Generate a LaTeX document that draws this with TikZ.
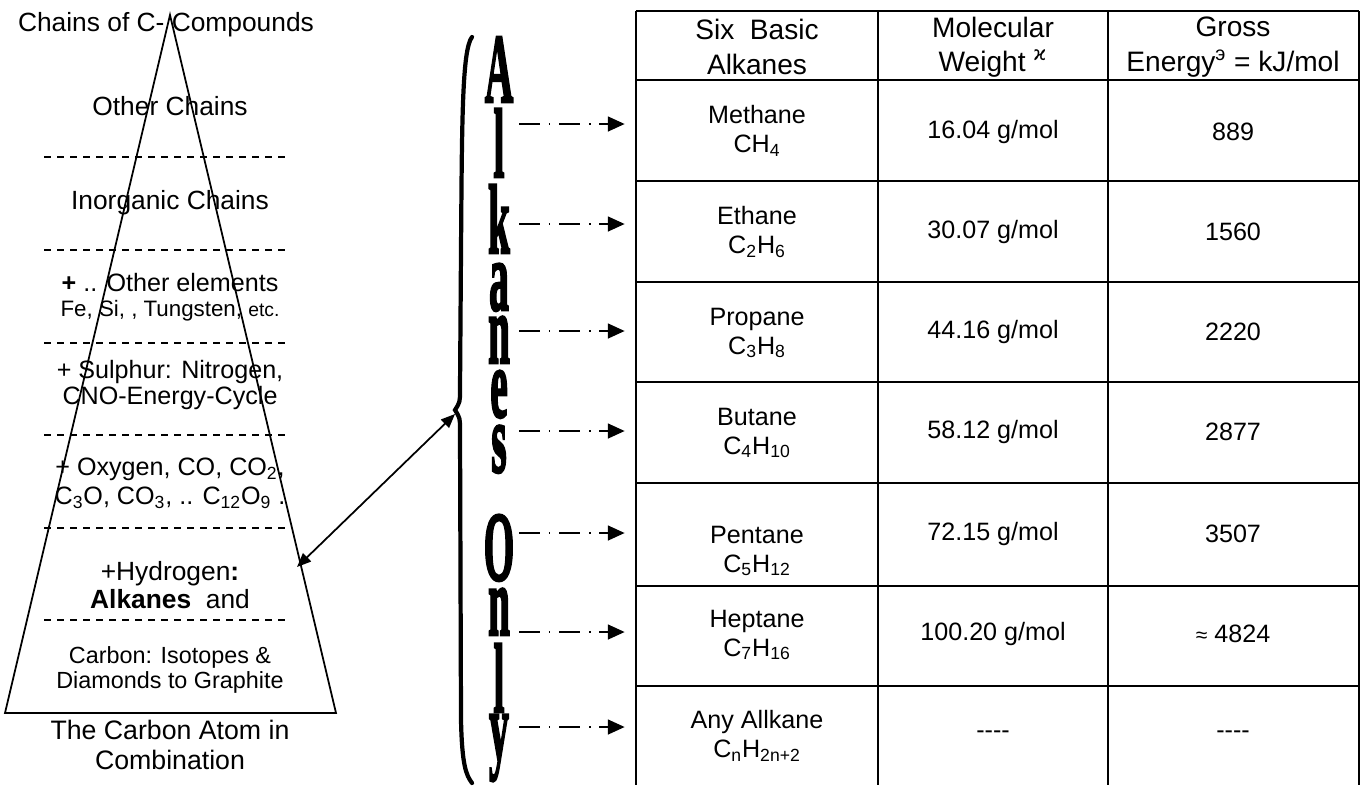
\documentclass[tikz,border=0pt]{standalone}
\usepackage{graphicx}
\usepackage{fontspec}
\setmainfont{Liberation Sans}
\newfontfamily\tallserif[FakeBold=3]{Liberation Serif}
\newfontfamily\dejavu{DejaVu Sans}
\usetikzlibrary{arrows.meta}

\newcommand{\tallchar}[1]{\scalebox{0.4}[1]{\fontsize{56}{56}\selectfont\tallserif\bfseries #1}}

\tikzset{
  layer/.style={align=center,inner sep=0pt,font=\fontsize{14.3}{14.5}\selectfont},
  biglayer/.style={layer,font=\fontsize{15}{15.5}\selectfont},
  layerline/.style={dash pattern=on 4pt off 3.4pt,line width=0.7pt},
  pyr/.style={line width=1pt,line join=miter},
  cell/.style={align=center,inner sep=0pt,font=\fontsize{14.3}{16.5}\selectfont},
  cellname/.style={cell,minimum width=4.84cm},
  headcell/.style={cell,font=\fontsize{16}{19.5}\selectfont},
  grid/.style={line width=1.1pt},
  dasharrow/.style={line width=0.8pt,dash pattern=on 12pt off 5pt on 0.9pt off 5pt,
    -{Triangle[length=9.5pt,width=8.5pt]},shorten >=6.3pt},
  linkarrow/.style={line width=1pt,
    {Triangle[length=8pt,width=6.5pt]}-{Triangle[length=8pt,width=6.5pt]}},
  bracepen/.style={line width=2.4pt,line cap=round},
  tallletter/.style={anchor=base,inner sep=0pt}
}

\begin{document}
\begin{tikzpicture}[x=0.02cm,y=-0.02cm]
\useasboundingbox (0,0) rectangle (1364,785);

% pyramid of carbon compounds
\draw[pyr] (170,15) -- (5,713) -- (336,713) -- cycle;
\foreach \y in {157,250,343,435,528,620}
  \draw[layerline] (44,\y) -- (290,\y);
\node[biglayer] (top) at (166,25) {Chains of C- Compounds};
\node[biglayer] (other) at (170,106) {Other Chains};
\node[biglayer] (inorg) at (170,203) {Inorganic Chains};
\node[layer] (elem) at (170,297) {\textbf{+} .. Other elements\\
  {\fontsize{12.7}{14}\selectfont Fe, Si, , Tungsten, {\fontsize{11}{13}\selectfont etc.}}};
\node[layer] (sulph) at (170,385) {+ Sulphur: Nitrogen,\\CNO-Energy-Cycle};
\node[layer,font=\fontsize{14.3}{16.5}\selectfont] (oxy) at (170,483)
  {+ Oxygen, CO, CO\textsubscript{2},\\C\textsubscript{3}O, CO\textsubscript{3}, .. C\textsubscript{12}O\textsubscript{9} .};
\node[biglayer] (hyd) at (170,585) {+Hydrogen\textbf{:}\\\textbf{Alkanes}\ \ and};
\node[layer,font=\fontsize{13.3}{14}\selectfont] (carb) at (170,670) {Carbon: Isotopes \&\\Diamonds to Graphite};
\node[layer,font=\fontsize{15.2}{17.5}\selectfont] (atom) at (170,745) {The Carbon Atom in\\Combination};

% brace and the tall letters
\draw[bracepen] (472,37) .. controls (462,50) and (462,120) .. (461,250) -- (460,390)
  .. controls (460,402) .. (455,410) .. controls (460,418) .. (460,430) -- (461,720)
  .. controls (462,765) and (466,775) .. (472,783);
\foreach \ch/\yb [count=\i] in {A/102,l/177,k/253,a/310,n/363,e/417,s/472,O/580,n/635,l/712,y/760}
  \node[tallletter] (L\i) at (499,\yb) {\tallchar{\ch}};

\coordinate (hydside) at (297,567);
\coordinate (bracetip) at (455,414);
\draw[linkarrow] (hydside) -- (bracetip);

% table
\draw[grid] (636,11) -- (1359,11);
\foreach \y in {80,181,282,382,483,586,686}
  \draw[grid] (636,\y) -- (1359,\y);
\foreach \x in {636,878,1108,1359}
  \draw[grid] (\x,11) -- (\x,785);

\node[headcell] (hname) at (757,47) {Six\ \ Basic\\Alkanes};
\node[headcell] (hweight) at (993,47) {Molecular\\Weight {\dejavu\textsuperscript{ϰ}}};
\node[headcell] (henergy) at (1233,47) {Gross\\Energy\textsuperscript{э} = kJ/mol};

\foreach \nm/\fm/\wt/\en/\yn/\yv [count=\i] in {
  Methane/{CH\textsubscript{4}}/{16.04 g/mol}/889/131/132,
  Ethane/{C\textsubscript{2}H\textsubscript{6}}/{30.07 g/mol}/1560/232/232,
  Propane/{C\textsubscript{3}H\textsubscript{8}}/{44.16 g/mol}/2220/333/332,
  Butane/{C\textsubscript{4}H\textsubscript{10}}/{58.12 g/mol}/2877/433/432,
  Pentane/{C\textsubscript{5}H\textsubscript{12}}/{72.15 g/mol}/3507/551/534,
  Heptane/{C\textsubscript{7}H\textsubscript{16}}/{100.20 g/mol}/{{\fontsize{12}{12}\selectfont≈} 4824}/635/634,
  Any Allkane/{C\textsubscript{n}H\textsubscript{2n+2}}/{{-}{-}{-}{-}}/{{-}{-}{-}{-}}/736/735}{
  \node[cellname] (n\i) at (757,\yn) {\nm\\\fm};
  \node[cell] (w\i) at (993,\yv) {\wt};
  \node[cell] (e\i) at (1233,\yv) {\en};
}

\foreach \ya [count=\i] in {124,224,331,431,533,632,727}{
  \coordinate (a\i) at (519,\ya);
  \draw[dasharrow] (a\i) -- (a\i -| n\i.west);
}
\end{tikzpicture}
\end{document}
